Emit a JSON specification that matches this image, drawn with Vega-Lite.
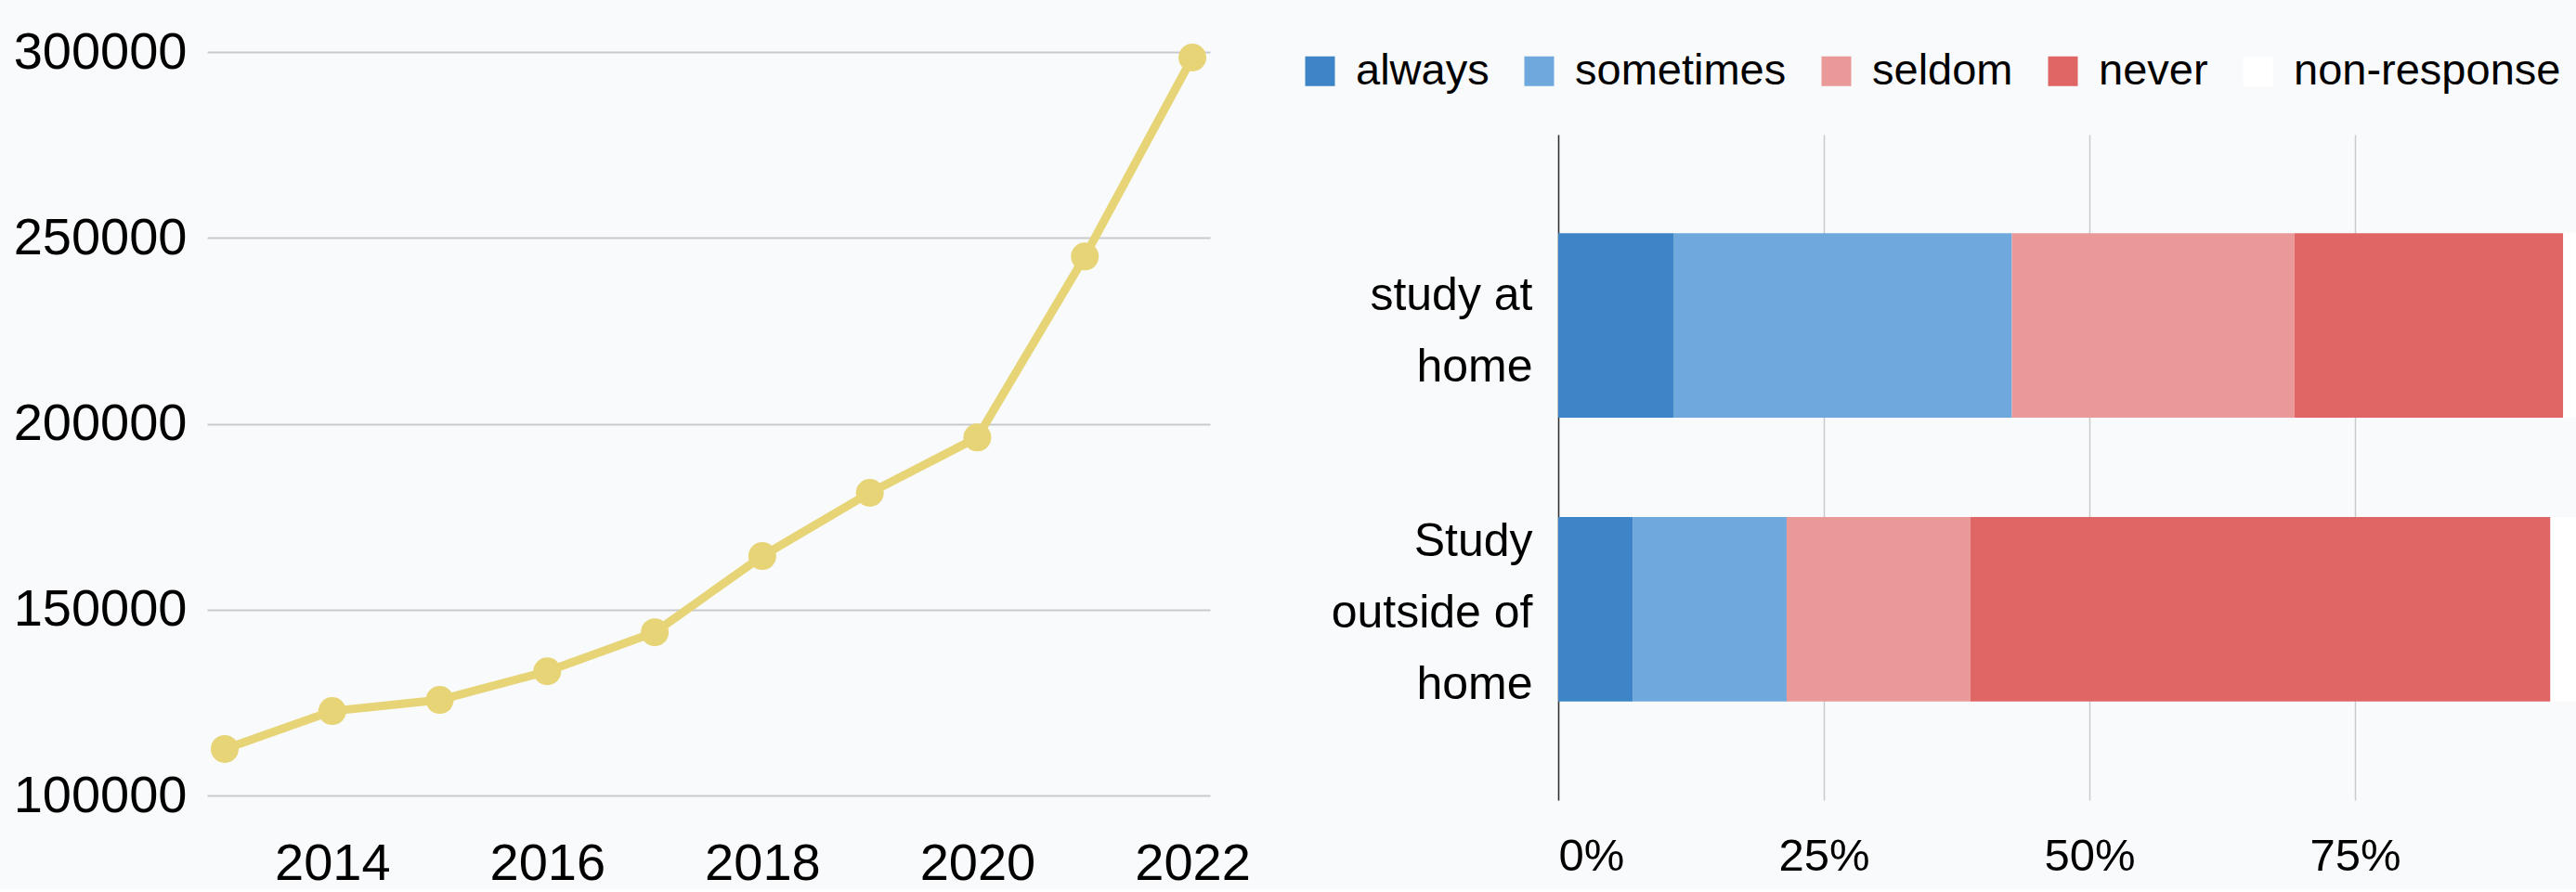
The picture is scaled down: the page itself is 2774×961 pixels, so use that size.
{
  "$schema": "https://vega.github.io/schema/vega-lite/v6.json",
  "background": "#f9fafb",
  "padding": {"left": 14, "top": 28, "right": 0, "bottom": 0},
  "spacing": 86,
  "config": {
    "view": {"stroke": null},
    "font": "Liberation Sans, Arial, sans-serif",
    "axis": {"labelColor": "#000000", "titleColor": "#000000"},
    "legend": {"labelColor": "#000000"}
  },
  "datasets": {
    "growth": [
      {"year": 2013, "value": 112500},
      {"year": 2014, "value": 122700},
      {"year": 2015, "value": 125700},
      {"year": 2016, "value": 133400},
      {"year": 2017, "value": 143900},
      {"year": 2018, "value": 164400},
      {"year": 2019, "value": 181400},
      {"year": 2020, "value": 196300},
      {"year": 2021, "value": 245000},
      {"year": 2022, "value": 298500}
    ],
    "study": [
      {"cat": "study at home", "resp": "always", "pct": 0.109},
      {"cat": "study at home", "resp": "sometimes", "pct": 0.318},
      {"cat": "study at home", "resp": "seldom", "pct": 0.266},
      {"cat": "study at home", "resp": "never", "pct": 0.253},
      {"cat": "study at home", "resp": "non-response", "pct": 0.054},
      {"cat": "Study outside of home", "resp": "always", "pct": 0.070},
      {"cat": "Study outside of home", "resp": "sometimes", "pct": 0.145},
      {"cat": "Study outside of home", "resp": "seldom", "pct": 0.173},
      {"cat": "Study outside of home", "resp": "never", "pct": 0.546},
      {"cat": "Study outside of home", "resp": "non-response", "pct": 0.066}
    ]
  },
  "hconcat": [
    {
      "width": 1080,
      "height": 801,
      "data": {"name": "growth"},
      "mark": {
        "type": "line",
        "color": "#e6d476",
        "strokeWidth": 9,
        "point": {"filled": true, "size": 900, "color": "#e6d476", "opacity": 1}
      },
      "encoding": {
        "x": {
          "field": "year",
          "type": "quantitative",
          "scale": {"domain": [2012.836, 2022.164], "nice": false, "zero": false},
          "axis": {
            "title": null,
            "values": [2014, 2016, 2018, 2020, 2022],
            "format": "d",
            "grid": false,
            "domain": false,
            "ticks": false,
            "labelFontSize": 56,
            "labelPadding": 46,
            "labelLimit": 0
          }
        },
        "y": {
          "field": "value",
          "type": "quantitative",
          "scale": {"domain": [100000, 300000], "nice": false, "zero": false},
          "axis": {
            "title": null,
            "values": [100000, 150000, 200000, 250000, 300000],
            "format": "d",
            "grid": true,
            "gridColor": "#c9c9cc",
            "gridWidth": 2.2,
            "domain": false,
            "ticks": false,
            "labelFontSize": 56,
            "labelPadding": 22,
            "labelLimit": 0
          }
        }
      }
    },
    {
      "spacing": 0,
      "vconcat": [
        {
          "width": 1144,
          "height": 89,
          "data": {"values": []},
          "mark": {"type": "point"},
          "encoding": {}
        },
        {
          "width": 1144,
          "height": 717,
          "data": {"name": "study"},
          "transform": [
            {"calculate": "indexof(['always', 'sometimes', 'seldom', 'never', 'non-response'], datum.resp)", "as": "ord"}
          ],
          "mark": {"type": "bar"},
          "encoding": {
            "y": {
              "field": "cat",
              "type": "nominal",
              "sort": ["study at home", "Study outside of home"],
              "scale": {"paddingInner": 0.35, "paddingOuter": 0.347},
              "axis": {
                "title": null,
                "ticks": false,
                "domain": true,
                "domainColor": "#333333",
                "domainWidth": 1.5,
                "labelFontSize": 50,
                "labelLineHeight": 77,
                "labelPadding": 28,
                "labelLimit": 0,
                "labelOffset": {"condition": {"test": "datum.value == 'study at home'", "value": -32}, "value": -72},
                "labelExpr": "datum.label == 'study at home' ? ['study at', 'home'] : ['Study', 'outside of', 'home']"
              }
            },
            "x": {
              "field": "pct",
              "type": "quantitative",
              "stack": "zero",
              "scale": {"domain": [0, 1], "nice": false},
              "axis": {
                "title": null,
                "values": [0, 0.25, 0.5, 0.75],
                "format": ".0%",
                "grid": true,
                "gridColor": "#cacaca",
                "gridWidth": 1.5,
                "domain": false,
                "ticks": false,
                "labelFontSize": 49,
                "labelPadding": 36
              }
            },
            "order": {"field": "ord", "type": "quantitative"},
            "color": {
              "field": "resp",
              "type": "nominal",
              "scale": {
                "domain": ["always", "sometimes", "seldom", "never", "non-response"],
                "range": ["#3d85c6", "#6fa8dc", "#ea9999", "#e06666", "#ffffff"]
              },
              "legend": {
                "title": null,
                "orient": "none",
                "direction": "horizontal",
                "legendX": 1175,
                "legendY": -3,
                "symbolType": "square",
                "symbolSize": 1024,
                "symbolStrokeWidth": 0,
                "symbolOpacity": 1,
                "labelFontSize": 47,
                "labelOffset": 15,
                "columnPadding": 30,
                "labelLimit": 0
              }
            }
          }
        }
      ]
    }
  ]
}
